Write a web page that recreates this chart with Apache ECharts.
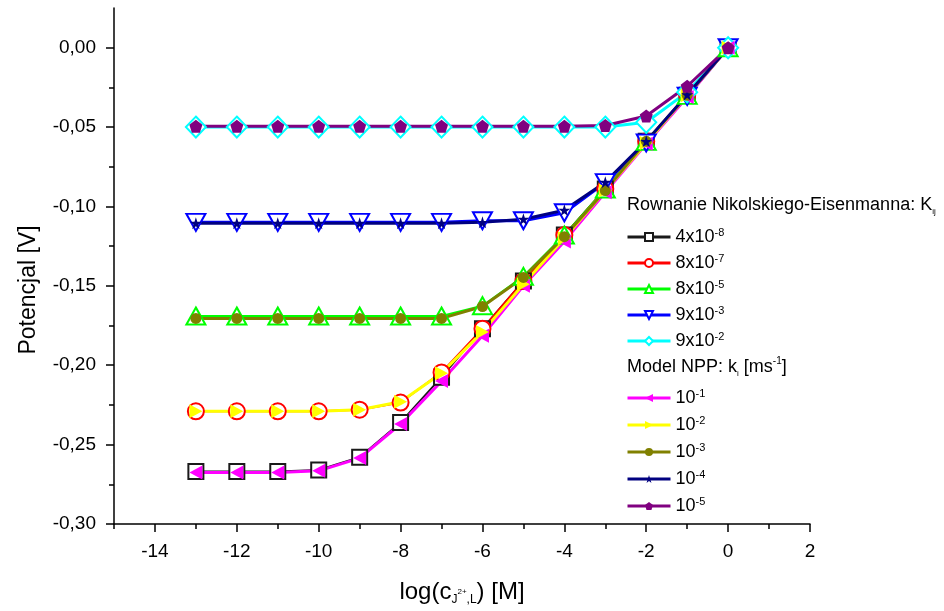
<!DOCTYPE html>
<html><head><meta charset="utf-8">
<script src="https://cdn.jsdelivr.net/npm/echarts@6/dist/echarts.min.js"></script>
<style>html,body{margin:0;padding:0;background:#fff}#c{width:944px;height:611px}</style>
</head><body><div id="c"></div>
<script>
// ---- data ----
const xValues = [-13,-12,-11,-10,-9,-8,-7,-6,-5,-4,-3,-2,-1,0];
// Nikolski-Eisenman equation, K_ij
const ne_4e8 = [-0.267,-0.267,-0.267,-0.266,-0.258,-0.236,-0.2075,-0.177,-0.147,-0.118,-0.089,-0.059,-0.030,0];
const ne_8e7 = [-0.229,-0.229,-0.229,-0.229,-0.228,-0.2235,-0.2045,-0.177,-0.147,-0.118,-0.089,-0.059,-0.030,0];
const ne_8e5 = [-0.169,-0.169,-0.169,-0.169,-0.169,-0.169,-0.169,-0.1625,-0.144,-0.118,-0.089,-0.059,-0.030,0];
const ne_9e3 = [-0.110,-0.110,-0.110,-0.110,-0.110,-0.110,-0.110,-0.109,-0.109,-0.104,-0.085,-0.060,-0.0306,0];
const ne_9e2 = [-0.050,-0.050,-0.050,-0.050,-0.050,-0.050,-0.050,-0.050,-0.050,-0.050,-0.050,-0.047,-0.028,0];
// NPP model, k_i
const npp_1e1 = [-0.2675,-0.2675,-0.2675,-0.2665,-0.2585,-0.237,-0.210,-0.1815,-0.150,-0.122,-0.091,-0.0605,-0.031,0];
const npp_1e2 = [-0.229,-0.229,-0.229,-0.229,-0.228,-0.223,-0.205,-0.179,-0.149,-0.120,-0.090,-0.060,-0.030,0];
const npp_1e3 = [-0.1705,-0.1705,-0.1705,-0.1705,-0.1705,-0.1705,-0.1705,-0.163,-0.1447,-0.119,-0.090,-0.059,-0.030,0];
const npp_1e4 = [-0.1105,-0.1105,-0.1105,-0.1105,-0.1105,-0.1105,-0.1105,-0.110,-0.108,-0.1023,-0.0847,-0.059,-0.0296,0];
const npp_1e5 = [-0.0495,-0.0495,-0.0495,-0.0495,-0.0495,-0.0495,-0.0495,-0.0495,-0.0495,-0.0495,-0.049,-0.043,-0.0243,0];

const xTickLabels = [-14,-12,-10,-8,-6,-4,-2,0,2];
const xMinorTicks = [-15,-13,-11,-9,-7,-5,-3,-1,1];
const yTickLabels = [-0.30,-0.25,-0.20,-0.15,-0.10,-0.05,0.00];
const yMinorTicks = [-0.275,-0.225,-0.175,-0.125,-0.075,-0.025];

const neNames = ['4x10^-8','8x10^-7','8x10^-5','9x10^-3','9x10^-2'];
const neBase = ['4x10','8x10','8x10','9x10','9x10'];
const neExp = ['-8','-7','-5','-3','-2'];
const nppNames = ['10^-1','10^-2','10^-3','10^-4','10^-5'];
const nppBase = ['10','10','10','10','10'];
const nppExp = ['-1','-2','-3','-4','-5'];

// ---- build ----
const FONT = 'Liberation Sans';
const STAR = 'path://M0,-1L0.2234,-0.3074L0.951,-0.309L0.3614,0.1174L0.588,0.809L0,0.38L-0.588,0.809L-0.3614,0.1174L-0.951,-0.309L-0.2234,-0.3074Z';
const PENT = 'path://M0,-1L0.951,-0.309L0.588,0.809L-0.588,0.809L-0.951,-0.309Z';

function pairs(ys){ return xValues.map((x,i)=>[x, ys[i]]); }
function mk(name, ys, color, symbol, size, lw, rotate, open){
  return {
    type:'line', name, data: pairs(ys), symbol, symbolSize:size, symbolRotate:rotate||0,
    showAllSymbol:true,
    lineStyle:{color, width:lw},
    itemStyle:{color, borderWidth: open?1.3:0},
    emphasis:{disabled:true}
  };
}
const series = [
  mk(neNames[0], ne_4e8, '#1a1a1a', 'emptyRect', 15, 2, 0, true),
  mk(neNames[1], ne_8e7, '#ff0000', 'emptyCircle', 16, 2, 0, true),
  mk(neNames[2], ne_8e5, '#00ff00', 'emptyTriangle', [19,17], 2, 0, true),
  mk(neNames[3], ne_9e3, '#0000ff', 'emptyTriangle', [19,17], 3, 180, true),
  mk(neNames[4], ne_9e2, '#00ffff', 'emptyDiamond', [20,21], 3, 0, true),
  mk(nppNames[0], npp_1e1, '#ff00ff', 'triangle', [14,13], 3, 90, false),
  mk(nppNames[1], npp_1e2, '#ffff00', 'triangle', [14,13], 3, -90, false),
  mk(nppNames[2], npp_1e3, '#808000', 'circle', 11, 3, 0, false),
  mk(nppNames[3], npp_1e4, '#000080', STAR, 12, 3, 0, false),
  mk(nppNames[4], npp_1e5, '#800080', PENT, 13, 3, 0, false)
];
// empty series bound to the minor-tick axes
series.push({type:'line', xAxisIndex:1, yAxisIndex:1, data:[], silent:true});

const allNames = neNames.concat(nppNames);
const allBase = neBase.concat(nppBase);
const allExp = neExp.concat(nppExp);
const legRich = {
  b:{fontFamily:FONT, fontSize:18, lineHeight:20, color:'#000', verticalAlign:'middle'},
  s:{fontFamily:FONT, fontSize:11, lineHeight:11, color:'#000', verticalAlign:'top'}
};
function legFmt(name){ const i = allNames.indexOf(name); return '{b|'+allBase[i]+'}{s|'+allExp[i]+'}'; }
function mkLegend(names, top, gap){
  return {
    data:names, orient:'vertical', left:626, top, padding:0, itemGap:gap,
    itemWidth:43, itemHeight:10, selectedMode:false,
    lineStyle:{width:3},
    formatter:legFmt, textStyle:{rich:legRich, fontFamily:FONT, fontSize:18, color:'#000'}
  };
}
const tickStyle = {color:'#000', width:1.5};
const yFmt = v => (Math.abs(v)<1e-9 ? 0 : v).toFixed(2).replace('.', ',');

const option = {
  animation:false,
  backgroundColor:'#fff',
  grid:{left:114, right:134, top:8, bottom:86, containLabel:false},
  xAxis:[{
    type:'value', min:-15, max:2,
    axisLine:{show:true, onZero:false, lineStyle:{color:'#000', width:1.5}},
    axisTick:{show:true, inside:false, length:8, lineStyle:tickStyle, customValues:xTickLabels},
    axisLabel:{show:true, customValues:xTickLabels, margin:18, color:'#000', fontFamily:FONT, fontSize:19, formatter:v=>String(v)},
    splitLine:{show:false},
    name:'{n|log(c}{sb|J}{sp|2+}{sb|,L}{n|) [M]}', nameLocation:'middle', nameGap:54,
    nameTextStyle:{rich:{
      n:{fontFamily:FONT, fontSize:24, lineHeight:28, color:'#000', verticalAlign:'middle'},
      sb:{fontFamily:FONT, fontSize:12, lineHeight:12, color:'#000', verticalAlign:'bottom'},
      sp:{fontFamily:FONT, fontSize:8, lineHeight:8, color:'#000', verticalAlign:'middle'}
    }}
  },{
    type:'value', min:-15, max:2, position:'bottom',
    axisLine:{show:false, onZero:false}, splitLine:{show:false}, axisLabel:{show:false},
    axisTick:{show:true, length:5, lineStyle:tickStyle, customValues:xMinorTicks}
  }],
  yAxis:[{
    type:'value', min:-0.30, max:0.025,
    axisLine:{show:true, onZero:false, lineStyle:{color:'#000', width:1.5}},
    axisTick:{show:true, inside:false, length:8, lineStyle:tickStyle, customValues:yTickLabels},
    axisLabel:{show:true, customValues:yTickLabels, margin:18, color:'#000', fontFamily:FONT, fontSize:19, formatter:yFmt},
    splitLine:{show:false},
    name:'Potencjal [V]', nameLocation:'middle', nameGap:74,
    nameTextStyle:{fontFamily:FONT, fontSize:23, color:'#000', padding:[0,48,0,0]}
  },{
    type:'value', min:-0.30, max:0.025, position:'left',
    axisLine:{show:false, onZero:false}, splitLine:{show:false}, axisLabel:{show:false},
    axisTick:{show:true, length:5, lineStyle:tickStyle, customValues:yMinorTicks}
  }],
  legend:[mkLegend(neNames, 227, 7), mkLegend(nppNames, 388, 8)],
  graphic:[
    {type:'text', left:627, top:196, silent:true, style:{
      text:'{m|Rownanie Nikolskiego-Eisenmanna: K}{s|ij}',
      rich:{m:{fontFamily:FONT, fontSize:18, lineHeight:22, fill:'#000', verticalAlign:'middle'},
            s:{fontFamily:FONT, fontSize:8, lineHeight:8, fill:'#000', verticalAlign:'bottom'}}
    }},
    {type:'text', left:627, top:356, silent:true, style:{
      text:'{m|Model NPP: k}{s|i}{m| [ms}{p|-1}{m|]}',
      rich:{m:{fontFamily:FONT, fontSize:18, lineHeight:22, fill:'#000', verticalAlign:'middle'},
            s:{fontFamily:FONT, fontSize:8, lineHeight:8, fill:'#000', verticalAlign:'bottom'},
            p:{fontFamily:FONT, fontSize:10, lineHeight:10, fill:'#000', verticalAlign:'top'}}
    }}
  ],
  series
};
const chart = echarts.init(document.getElementById('c'), null, {renderer:'canvas'});
chart.setOption(option);
</script></body></html>
